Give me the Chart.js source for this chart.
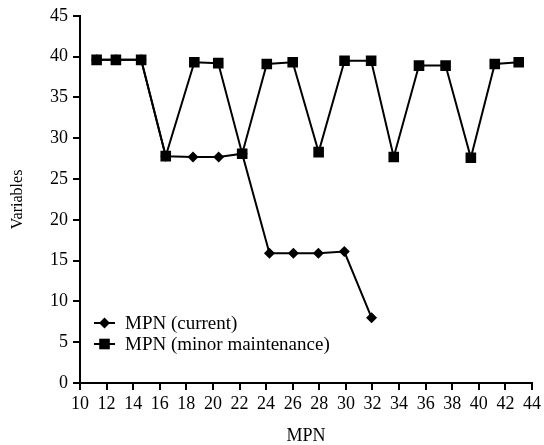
<!DOCTYPE html>
<html>
<head>
<meta charset="utf-8">
<script src="https://cdn.jsdelivr.net/npm/chart.js@4"></script>
<style>
  body { margin: 0; background: #fff; }
</style>
</head>
<body>
<canvas id="mpn-chart" width="544" height="445"></canvas>
<script>
// MPN (current)
let current_x = [11.25, 12.7, 14.6, 16.45, 18.5, 20.43, 22.2, 24.25, 26.05, 27.93, 29.88, 31.93];
let current_y = [39.6, 39.6, 39.6, 27.8, 27.7, 27.7, 28.1, 15.9, 15.9, 15.9, 16.1, 8.0];

// MPN (minor maintenance)
let minor_x = [11.25, 12.7, 14.6, 16.45, 18.6, 20.4, 22.2, 24.05, 26.0, 27.95, 29.9, 31.9, 33.6, 35.5, 37.5, 39.4, 41.2, 43.0];
let minor_y = [39.6, 39.6, 39.6, 27.8, 39.3, 39.2, 28.1, 39.1, 39.3, 28.3, 39.5, 39.5, 27.7, 38.9, 38.9, 27.6, 39.1, 39.3];

let legend_labels = ['MPN (current)', 'MPN (minor maintenance)'];

const serif = "'Liberation Serif', 'Times New Roman', serif";
Chart.defaults.font.family = serif;
Chart.defaults.color = '#000';

function toPoints(xs, ys) {
    return xs.map((x, i) => ({x: x, y: ys[i]}));
}

// legend drawn inside the plot, bottom left
const insideLegend = {
    id: 'insideLegend',
    afterDraw(chart) {
        const ctx = chart.ctx;
        const area = chart.chartArea;
        const order = [1, 0]; // current first, then minor maintenance
        ctx.save();
        ctx.font = '19px ' + serif;
        ctx.textBaseline = 'middle';
        ctx.fillStyle = '#000';
        order.forEach((d, row) => {
            const ds = chart.data.datasets[d];
            const y = area.bottom - 60 + row * 21;
            const x0 = area.left + 14;
            ctx.strokeStyle = '#000';
            ctx.lineWidth = 2;
            ctx.beginPath();
            ctx.moveTo(x0, y);
            ctx.lineTo(x0 + 21, y);
            ctx.stroke();
            Chart.helpers.drawPoint(ctx, {
                pointStyle: ds.pointStyle,
                radius: ds.pointRadius,
                borderWidth: 0
            }, x0 + 10.5, y);
            ctx.fillText(ds.label, x0 + 31, y + 1);
        });
        ctx.restore();
    }
};

new Chart(document.getElementById('mpn-chart'), {
    type: 'line',
    data: {
        datasets: [{
            label: legend_labels[1],
            data: toPoints(minor_x, minor_y),
            borderColor: '#000',
            backgroundColor: '#000',
            borderWidth: 2,
            pointStyle: 'rect',
            pointRadius: 7.5,
            pointBorderWidth: 0,
            order: 1
        }, {
            label: legend_labels[0],
            data: toPoints(current_x, current_y),
            borderColor: '#000',
            backgroundColor: '#000',
            borderWidth: 2,
            pointStyle: 'rectRot',
            pointRadius: 5.5,
            pointBorderWidth: 0,
            order: 2
        }]
    },
    plugins: [insideLegend],
    options: {
        responsive: false,
        animation: false,
        layout: { padding: { top: 15, right: 11, left: 0, bottom: 0 } },
        plugins: {
            legend: { display: false },
            tooltip: { enabled: false }
        },
        scales: {
            x: {
                type: 'linear',
                min: 10,
                max: 44,
                afterFit: function(scale) { scale.height = 62; },
                border: { display: true, color: '#000', width: 2 },
                grid: { drawOnChartArea: false, drawTicks: true, tickLength: 7, color: '#000', lineWidth: 2 },
                ticks: {
                    stepSize: 2,
                    autoSkip: false,
                    maxRotation: 0,
                    padding: 3,
                    color: '#000',
                    font: { family: serif, size: 18 }
                },
                title: {
                    display: true,
                    text: 'MPN',
                    color: '#000',
                    font: { family: serif, size: 18, lineHeight: 1 },
                    padding: { top: 0, bottom: 0 }
                }
            },
            y: {
                min: 0,
                max: 45,
                afterFit: function(scale) { scale.width = 80; },
                border: { display: true, color: '#000', width: 2 },
                grid: { drawOnChartArea: false, drawTicks: true, tickLength: 7, color: '#000', lineWidth: 2 },
                ticks: {
                    stepSize: 5,
                    padding: 5,
                    color: '#000',
                    font: { family: serif, size: 18 }
                },
                title: {
                    display: true,
                    text: 'Variables',
                    color: '#000',
                    font: { family: serif, size: 16 },
                    padding: { top: 8, bottom: 4 }
                }
            }
        }
    }
});
</script>
</body>
</html>
